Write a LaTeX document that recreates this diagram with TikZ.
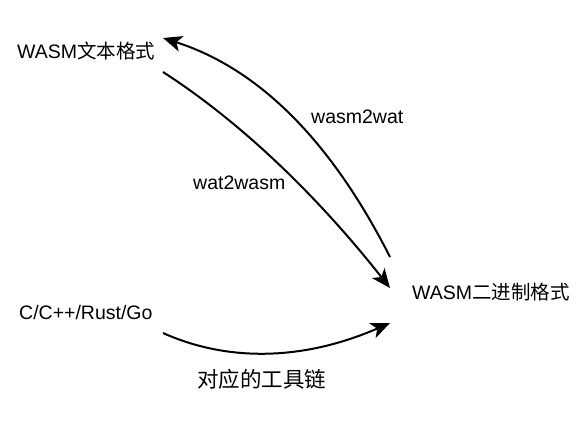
\documentclass[tikz,border=0pt]{standalone}
\usepackage{fontspec}
\setmainfont{Liberation Sans}
\newfontfamily\cjk{Noto Sans CJK SC}
\usetikzlibrary{arrows.meta}
\begin{document}
\begin{tikzpicture}[x=1pt,y=-1pt,
  lbl/.style={inner sep=0pt,anchor=west,font=\fontsize{19.5}{23}\selectfont},
  biglbl/.style={inner sep=0pt,anchor=west,font=\fontsize{21.5}{25}\selectfont},
  conn/.style={line width=2pt,-{Stealth[length=19pt,width=16pt,inset=5pt]}}]
\useasboundingbox[fill=white] (0,0) rectangle (585,438);
\node[lbl] (txt) at (17,51) {WASM{\cjk 文本格式}};
\node[lbl] (bin) at (412,292) {WASM{\cjk 二进制格式}};
\node[lbl] (src) at (19,313) {C/C++/Rust/Go};
\node[biglbl] (tool) at (197,379) {\cjk 对应的工具链};
\node[lbl] (w2t) at (311,117) {wasm2wat};
\node[lbl] (t2w) at (193,183) {wat2wasm};
\coordinate (binN) at (390,257);
\coordinate (txtE) at (163,38);
\coordinate (txtS) at (163,72);
\coordinate (binW) at (390,288);
\coordinate (srcE) at (163,333);
\coordinate (binS) at (390,323);
\draw[conn] (binN) .. controls (318,115) and (238,62) .. (txtE);
\draw[conn] (txtS) .. controls (239,121) and (315,193) .. (binW);
\draw[conn] (srcE) .. controls (230,363) and (305.7,359.7) .. (binS);
\end{tikzpicture}
\end{document}
